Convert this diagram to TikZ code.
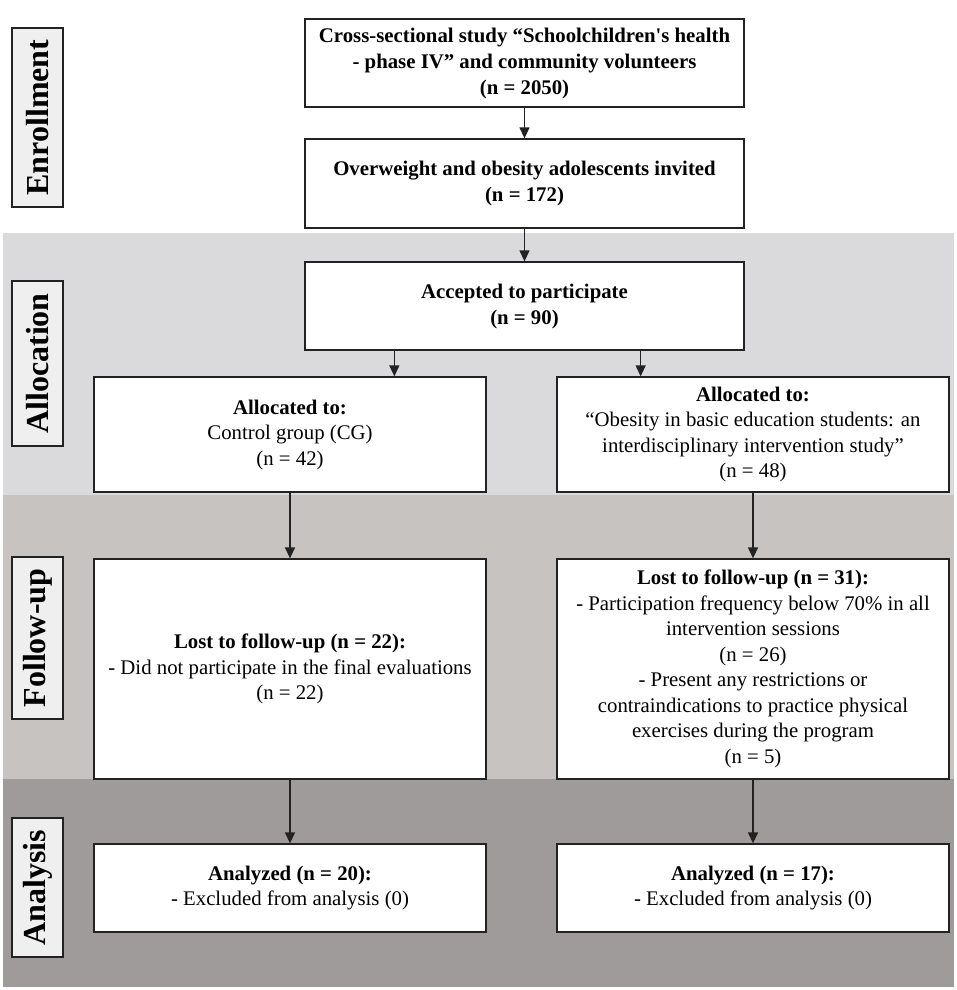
\documentclass[tikz,border=0pt]{standalone}
\usepackage{fontspec}
\setmainfont{Liberation Serif}
\usetikzlibrary{arrows.meta}

\definecolor{allocgray}{HTML}{DAD9DB}
\definecolor{followgray}{HTML}{C6C3C1}
\definecolor{analysisgray}{HTML}{9E9B9A}
\definecolor{labelgray}{HTML}{EFEFEF}
\definecolor{linegray}{HTML}{222222}

\begin{document}
\begin{tikzpicture}[x=1pt, y=-1pt,
    every node/.style={font=\fontsize{20.8}{25.5}\selectfont},
    box/.style={draw=linegray, line width=1.3pt, fill=white, align=center, inner sep=2pt},
    boldtext/.style={font=\fontsize{20.8}{26}\selectfont\bfseries},
    phase/.style={draw=linegray, line width=1.3pt, fill=labelgray, rotate=90,
        font=\fontsize{32}{36}\selectfont\bfseries, minimum height=51pt, inner sep=0pt},
    >={Stealth[inset=0pt,length=11pt,width=10pt]}]

    \useasboundingbox (0,0) rectangle (957,990);

    % bands
    \fill[allocgray] (3,233) rectangle (954,495);
    \fill[followgray] (3,495) rectangle (954,779);
    \fill[analysisgray] (3,779) rectangle (954,987);

    % phase labels
    \node[phase, minimum width=179pt] (enroll) at (37.5,117.5) {Enrollment};
    \node[phase, minimum width=165pt] (alloc) at (37.5,363.5) {Allocation};
    \node[phase, minimum width=162pt] (follow) at (37.5,638) {Follow-up};
    \node[phase, minimum width=139pt] (analysis) at (37.5,887.5) {Analysis};

    % boxes
    \node[box, boldtext, minimum width=439pt, minimum height=88pt] (cross) at (524.5,63)
        {Cross-sectional study “Schoolchildren\textquotesingle s health\\- phase IV” and community volunteers\\(n = 2050)};
    \node[box, boldtext, minimum width=439pt, minimum height=89pt] (invited) at (524.5,183.5)
        {Overweight and obesity adolescents invited\\(n = 172)};
    \node[box, boldtext, minimum width=439pt, minimum height=88pt] (accepted) at (524.5,306)
        {Accepted to participate\\(n = 90)};

    \node[box, minimum width=392pt, minimum height=115pt] (cg) at (290,434.5)
        {\textbf{Allocated to:}\\Control group (CG)\\(n = 42)};
    \node[box, minimum width=392pt, minimum height=115pt] (ig) at (753,434.5)
        {\textbf{Allocated to:}\\“Obesity in basic education students: an\\interdisciplinary intervention study”\\(n = 48)};

    \node[box, minimum width=392pt, minimum height=220pt] (cglost) at (290,669)
        {\textbf{Lost to follow-up (n = 22):}\\- Did not participate in the final evaluations\\(n = 22)};
    \node[box, minimum width=392pt, minimum height=220pt] (iglost) at (753,669)
        {\textbf{Lost to follow-up (n = 31):}\\- Participation frequency below 70\% in all\\intervention sessions\\(n = 26)\\- Present any restrictions or\\contraindications to practice physical\\exercises during the program\\(n = 5)};

    \node[box, minimum width=392pt, minimum height=88pt] (cgan) at (290,888)
        {\textbf{Analyzed (n = 20):}\\- Excluded from analysis (0)};
    \node[box, minimum width=392pt, minimum height=88pt] (igan) at (753,888)
        {\textbf{Analyzed (n = 17):}\\- Excluded from analysis (0)};

    % arrows
    \draw[->, line width=1.3pt, linegray] (cross) -- (invited);
    \draw[->, line width=1.3pt, linegray] (invited) -- (accepted);
    \draw[->, line width=1.3pt, linegray] ([xshift=90pt]accepted.south west) -- ([xshift=90pt]accepted.south west |- cg.north);
    \draw[->, line width=1.3pt, linegray] ([xshift=-104pt]accepted.south east) -- ([xshift=-104pt]accepted.south east |- ig.north);
    \draw[->, line width=1.3pt, linegray] (cg) -- (cglost);
    \draw[->, line width=1.3pt, linegray] (ig) -- (iglost);
    \draw[->, line width=1.3pt, linegray] (cglost) -- (cgan);
    \draw[->, line width=1.3pt, linegray] (iglost) -- (igan);

\end{tikzpicture}
\end{document}
